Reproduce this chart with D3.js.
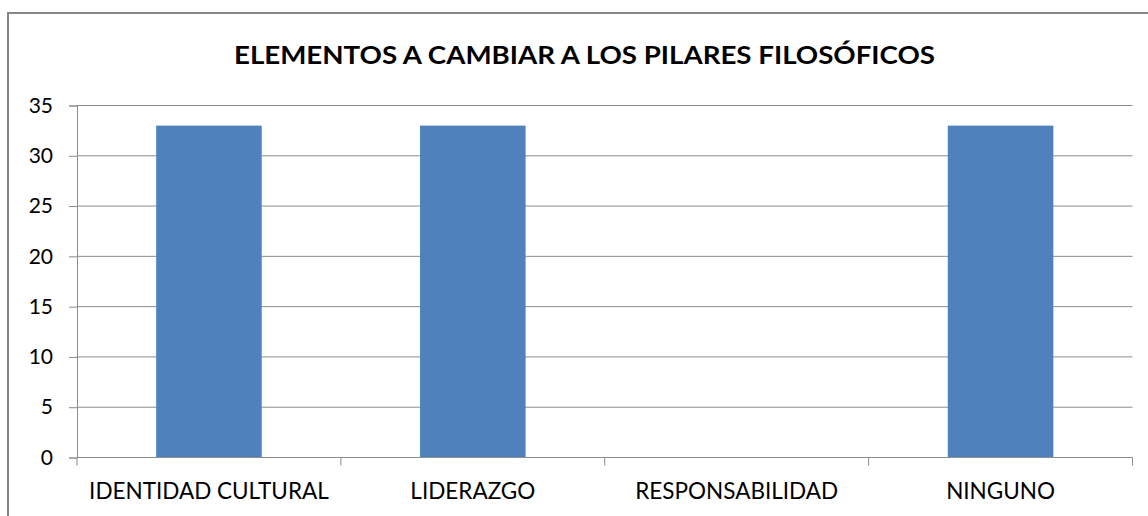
<!DOCTYPE html>
<html>
<head>
<meta charset="utf-8">
<script src="https://cdn.jsdelivr.net/npm/d3@7"></script>
<style>
  body { margin: 0; background: #fff; }
  svg { display: block; }
  text { font-family: Lato, "Open Sans", sans-serif; fill: #000; }
</style>
</head>
<body>
<div id="chart"></div>
<script>
// chart data
var categories = ["IDENTIDAD CULTURAL", "LIDERAZGO", "RESPONSABILIDAD", "NINGUNO"];
var values = [33, 33, 0, 33];
var yTicks = [0, 5, 10, 15, 20, 25, 30, 35];
var title = "ELEMENTOS A CAMBIAR A LOS PILARES FILOSÓFICOS";

var W = 1148, H = 516;
var margin = {top: 105.5, left: 77, right: 15.5, bottom: 58.5};
var width = W - margin.left - margin.right;
var height = H - margin.top - margin.bottom;

var svg = d3.select("#chart").append("svg")
  .attr("width", W).attr("height", H);

// outer frame of chart object
svg.append("rect")
  .attr("x", 8).attr("y", 13)
  .attr("width", W + 10).attr("height", H + 10)
  .attr("fill", "none")
  .attr("stroke", "#868686")
  .attr("stroke-width", 2);

svg.append("text")
  .attr("x", 234).attr("y", 64)
  .attr("textLength", 701)
  .attr("lengthAdjust", "spacingAndGlyphs")
  .style("font-weight", "bold")
  .style("font-size", "24px")
  .text(title);

var g = svg.append("g")
  .attr("transform", "translate(" + margin.left + "," + margin.top + ")");

var x = d3.scaleBand().domain(categories).range([0, width]).paddingInner(0.6).paddingOuter(0.3);
var xTick = d3.scaleBand().domain(categories).range([0, width]);
var y = d3.scaleLinear().domain([0, 35]).range([height, 0]);

// gridlines
g.selectAll(".grid")
  .data(yTicks.filter(function(d){ return d > 0; }))
  .enter().append("line")
  .attr("x1", 0).attr("x2", width)
  .attr("y1", function(d){ return y(d); })
  .attr("y2", function(d){ return y(d); })
  .attr("stroke", "#8c8c8c")
  .attr("stroke-width", 1);

// y axis
var yAxis = g.append("g")
  .call(d3.axisLeft(y).tickValues(yTicks).tickSize(8).tickPadding(16));
yAxis.select(".domain").attr("stroke", "#8c8c8c");
yAxis.selectAll(".tick line").attr("stroke", "#8c8c8c");
yAxis.selectAll("text").style("font-size", "21px").attr("fill", "#000");

// bars
g.selectAll(".bar")
  .data(values)
  .enter().append("rect")
  .attr("x", function(d, i){ return x(categories[i]); })
  .attr("width", x.bandwidth())
  .attr("y", function(d){ return y(d); })
  .attr("height", function(d){ return height - y(d); })
  .attr("fill", "#4f81bd");

// x axis
var xAxis = g.append("g")
  .attr("transform", "translate(0," + height + ")");
xAxis.append("line")
  .attr("x1", 0).attr("x2", width)
  .attr("stroke", "#8c8c8c");
var bounds = categories.map(function(c){ return xTick(c); }).concat([width]);
xAxis.selectAll(".xt")
  .data(bounds)
  .enter().append("line")
  .attr("x1", function(d){ return d; }).attr("x2", function(d){ return d; })
  .attr("y1", 0).attr("y2", 8)
  .attr("stroke", "#8c8c8c");
xAxis.selectAll(".xl")
  .data(categories)
  .enter().append("text")
  .attr("x", function(d){ return xTick(d) + xTick.bandwidth() / 2; })
  .attr("y", 41.5)
  .attr("text-anchor", "middle")
  .style("font-size", "22.5px")
  .text(function(d){ return d; });
</script>
</body>
</html>
